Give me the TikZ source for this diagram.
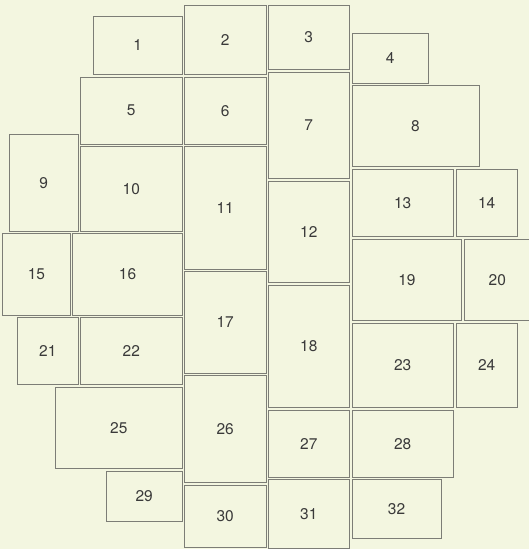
\documentclass[tikz,border=0pt]{standalone}
\usepackage{fontspec}
\setmainfont{TeX Gyre Heros}
\definecolor{paper}{HTML}{F3F6E0}
\definecolor{edge}{HTML}{7C7D76}
\definecolor{ink}{HTML}{3A3A3A}
\tikzset{
  tile/.style={draw=edge,fill=paper,line width=.9pt,inner sep=0pt,outer sep=0pt,text=ink}
}
\begin{document}
\begin{tikzpicture}[x=1pt,y=-1pt,font=\fontsize{15.5}{18}\selectfont]
  \fill[paper] (0,0) rectangle (529,549);
  \useasboundingbox (0,0) rectangle (529,549);
  % column left of centre
  \node[tile,minimum width=89pt,minimum height=58.3pt] (t1) at (137.8,45.2) {1};
  \node[tile,minimum width=102pt,minimum height=67.3pt] (t5) at (131.3,110.7) {5};
  \node[tile,minimum width=69pt,minimum height=96.3pt] (t9) at (43.8,182.9) {9};
  \node[tile,minimum width=102pt,minimum height=84.3pt] (t10) at (131.3,188.9) {10};
  \node[tile,minimum width=67.3pt,minimum height=81.7pt] (t15) at (36.4,274.2) {15};
  \node[tile,minimum width=109.6pt,minimum height=81.7pt] (t16) at (127.5,274.2) {16};
  \node[tile,minimum width=61pt,minimum height=67pt] (t21) at (47.8,350.8) {21};
  \node[tile,minimum width=102pt,minimum height=67pt] (t22) at (131.3,350.8) {22};
  \node[tile,minimum width=127pt,minimum height=81pt] (t25) at (118.8,427.8) {25};
  \node[tile,minimum width=76.3pt,minimum height=50pt] (t29) at (144.2,496) {29};
  % centre columns
  \node[tile,minimum width=81.7pt,minimum height=68.6pt] (t2) at (225.2,40) {2};
  \node[tile,minimum width=81.7pt,minimum height=67.3pt] (t6) at (225.2,110.7) {6};
  \node[tile,minimum width=81.7pt,minimum height=122.3pt] (t11) at (225.2,207.9) {11};
  \node[tile,minimum width=81.7pt,minimum height=101.6pt] (t17) at (225.2,322.5) {17};
  \node[tile,minimum width=81.7pt,minimum height=106.6pt] (t26) at (225.2,429) {26};
  \node[tile,minimum width=81.7pt,minimum height=62.7pt] (t30) at (225.2,516.3) {30};
  \node[tile,minimum width=81.7pt,minimum height=63.6pt] (t3) at (308.8,37.5) {3};
  \node[tile,minimum width=81.7pt,minimum height=106.3pt] (t7) at (308.8,125.2) {7};
  \node[tile,minimum width=81.7pt,minimum height=100.6pt] (t12) at (308.8,232) {12};
  \node[tile,minimum width=81.7pt,minimum height=122pt] (t18) at (308.8,346.3) {18};
  \node[tile,minimum width=81.7pt,minimum height=67pt] (t27) at (308.8,443.8) {27};
  \node[tile,minimum width=81.7pt,minimum height=68.6pt] (t31) at (308.8,514) {31};
  % right side
  \node[tile,minimum width=76.3pt,minimum height=50pt] (t4) at (390.2,58.3) {4};
  \node[tile,minimum width=127pt,minimum height=81pt] (t8) at (415.5,126.2) {8};
  \node[tile,minimum width=101.3pt,minimum height=67pt] (t13) at (402.7,203.2) {13};
  \node[tile,minimum width=60.7pt,minimum height=67pt] (t14) at (486.7,203.2) {14};
  \node[tile,minimum width=109.7pt,minimum height=81pt] (t19) at (406.9,279.8) {19};
  \node[tile,minimum width=66pt,minimum height=81pt] (t20) at (497.3,279.8) {20};
  \node[tile,minimum width=101.3pt,minimum height=84pt] (t23) at (402.7,365.3) {23};
  \node[tile,minimum width=60.7pt,minimum height=84pt] (t24) at (486.7,365.3) {24};
  \node[tile,minimum width=101.3pt,minimum height=67pt] (t28) at (402.7,443.8) {28};
  \node[tile,minimum width=89pt,minimum height=58.6pt] (t32) at (396.5,509) {32};
\end{tikzpicture}
\end{document}
